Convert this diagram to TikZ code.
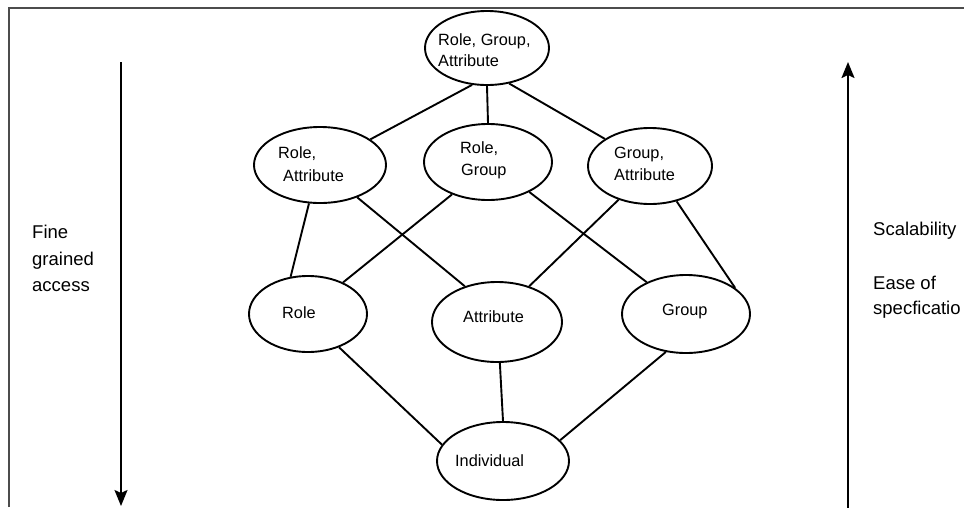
\documentclass[tikz,border=0pt]{standalone}
\usepackage{fontspec}
\setmainfont{Liberation Sans}
\usetikzlibrary{shapes.geometric,arrows.meta}

\tikzset{
  set/.style={draw=black, line width=1.9pt, ellipse, inner sep=0pt},
  txt/.style={anchor=base west, inner sep=0pt, font=\fontsize{16.3pt}{20pt}\selectfont},
  side/.style={anchor=base west, inner sep=0pt, font=\fontsize{18.5pt}{22pt}\selectfont},
  link/.style={draw=black, line width=1.9pt},
  axis/.style={draw=black, line width=1.9pt, -{Stealth[width=13pt,length=16pt,inset=3pt]}},
  frame/.style={draw=black!70, line width=1.4pt}
}

\begin{document}
\begin{tikzpicture}[x=1pt, y=-1pt]
  \useasboundingbox (0,0) rectangle (964,507);
  \clip (0,0) rectangle (964,507);

  % outer frame (top and left edges)
  \coordinate (fl) at (9,507);
  \coordinate (fc) at (9,8);
  \coordinate (fr) at (964,8);
  \draw[frame] (fl) -- (fc) -- (fr);

  % lattice of access-control sets
  \node[set, minimum width=124pt, minimum height=74pt] (rga)  at (487,48)  {};
  \node[set, minimum width=132pt, minimum height=76pt] (ra)   at (320,165) {};
  \node[set, minimum width=128pt, minimum height=76pt] (rg)   at (488,162) {};
  \node[set, minimum width=124pt, minimum height=76pt] (ga)   at (650,166) {};
  \node[set, minimum width=118pt, minimum height=76pt] (role) at (308,314) {};
  \node[set, minimum width=130pt, minimum height=80pt] (attr) at (497,322) {};
  \node[set, minimum width=128pt, minimum height=78pt] (grp)  at (686,314) {};
  \node[set, minimum width=132pt, minimum height=78pt] (ind)  at (503,461) {};

  % labels inside the sets
  \node[txt] (rga1)  at (438,45)  {Role, Group,};
  \node[txt] (rga2)  at (438,66)  {Attribute};
  \node[txt] (ra1)   at (278,158) {Role,};
  \node[txt] (ra2)   at (283,181) {Attribute};
  \node[txt] (rg1)   at (460,153) {Role,};
  \node[txt] (rg2)   at (461,175) {Group};
  \node[txt] (ga1)   at (614,158) {Group,};
  \node[txt] (ga2)   at (614,180) {Attribute};
  \node[txt] (rolet) at (282,318) {Role};
  \node[txt] (attrt) at (463,322) {Attribute};
  \node[txt] (grpt)  at (662,315) {Group};
  \node[txt] (indt)  at (455,466) {Individual};

  % edges of the lattice
  \draw[link] (rga.-112) -- (ra.27);
  \draw[link] (rga.-90)  -- (rg.90);
  \draw[link] (rga.-58)  -- (ga.149);
  \draw[link] (ra.-106)  -- (role.115);
  \draw[link] (ra.-41)   -- (attr.132);
  \draw[link] (rg.-138)  -- (role.42);
  \draw[link] (rg.-36)   -- (grp.141);
  \draw[link] (ga.-133)  -- (attr.48);
  \draw[link] (ga.-53)   -- (grp.28);
  \draw[link] (role.-47) -- (ind.165);
  \draw[link] (attr.-86) -- (ind.90);
  \draw[link] (grp.-118) -- (ind.20);

  % side axes
  \coordinate (ltop) at (121,62);
  \coordinate (lbot) at (121,506);
  \draw[axis] (ltop) -- (lbot);
  \coordinate (rbot) at (848,508);
  \coordinate (rtop) at (848,62);
  \draw[axis] (rbot) -- (rtop);

  % axis captions
  \node[side] (fine)  at (32,238) {Fine};
  \node[side] (grain) at (32,265) {grained};
  \node[side] (acc)   at (32,291) {access};
  \node[side] (scal)  at (873,235) {Scalability};
  \node[side] (ease)  at (873,289) {Ease of};
  \node[side] (spec)  at (873,314) {specficatio};
\end{tikzpicture}
\end{document}
